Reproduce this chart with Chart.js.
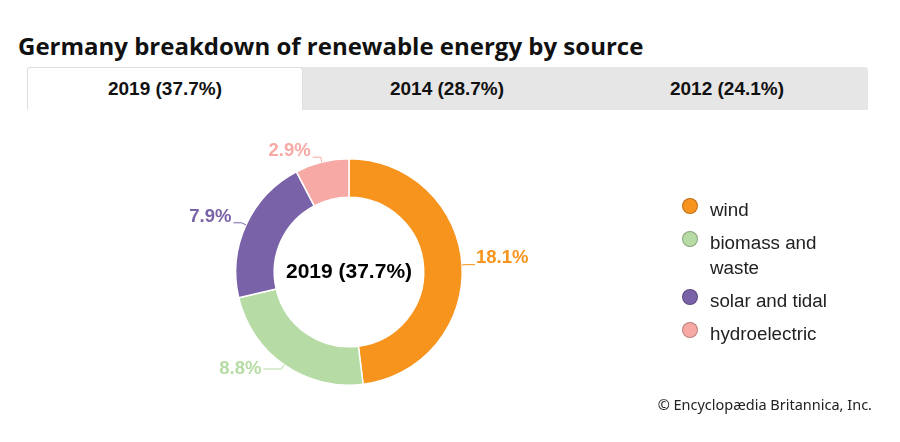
<!DOCTYPE html>
<html>
<head>
<meta charset="utf-8">
<script src="https://cdn.jsdelivr.net/npm/chart.js@4.4.1/dist/chart.umd.min.js"></script>
<style>
  body { margin: 0; background: #fff; width: 900px; height: 442px; overflow: hidden; position: relative; font-family: "Liberation Sans", Arial, sans-serif; }
  #titulo { position: absolute; left: 18px; top: 29px; font-family: "Open Sans", sans-serif; font-weight: 700; font-size: 24px; color: #111; white-space: nowrap; }
  #tabs { position: absolute; left: 27px; top: 67px; width: 841px; height: 43px; background: #e6e6e6; display: flex; border-radius: 3px 3px 0 0; }
  .tab { width: 280px; height: 43px; line-height: 43px; text-align: center; font-weight: 700; font-size: 19px; color: #111; box-sizing: border-box; }
  .tab.activo { background: #fff; border: 1px solid #dedede; border-bottom: none; border-radius: 3px 3px 0 0; width: 276px; margin-right: 4px; line-height: 42px; }
  #grafico { position: absolute; left: 0; top: 0; }
  #leyenda { position: absolute; left: 682px; top: 197px; }
  .item { display: flex; align-items: flex-start; margin-bottom: 8px; }
  .punto { width: 14px; height: 14px; border-radius: 50%; border: 1px solid rgba(0,0,0,0.25); margin-top: 1px; margin-right: 12px; flex: none; }
  .texto { font-size: 18.8px; line-height: 25px; color: #222; width: 140px; }
  #copy { position: absolute; right: 28px; top: 394px; font-family: "Noto Sans", sans-serif; font-size: 14.5px; color: #222; }
</style>
</head>
<body>
<div id="titulo">Germany breakdown of renewable energy by source</div>
<div id="tabs"></div>
<canvas id="grafico" width="900" height="442"></canvas>
<div id="leyenda"></div>
<div id="copy">© Encyclopædia Britannica, Inc.</div>
<script>
const categorias = ['wind', 'biomass and waste', 'solar and tidal', 'hydroelectric'];
const valores2019 = [18.1, 8.8, 7.9, 2.9];
const colores = ['#f7941d', '#b6dba5', '#7a62a8', '#f7aaa5'];
const pestanas = ['2019 (37.7%)', '2014 (28.7%)', '2012 (24.1%)'];
const textoCentro = '2019 (37.7%)';

// pestañas
const tabs = document.getElementById('tabs');
pestanas.forEach((p, i) => {
  const d = document.createElement('div');
  d.className = 'tab' + (i === 0 ? ' activo' : '');
  d.textContent = p;
  tabs.appendChild(d);
});

// leyenda
const leyenda = document.getElementById('leyenda');
categorias.forEach((c, i) => {
  const it = document.createElement('div');
  it.className = 'item';
  it.innerHTML = '<span class="punto" style="background:' + colores[i] + '"></span><span class="texto">' + c + '</span>';
  leyenda.appendChild(it);
});

/* etiquetas con lineas guia */
const etiquetas = {
  id: 'etiquetas',
  afterDraw(chart) {
    const ctx = chart.ctx;
    const meta = chart.getDatasetMeta(0);
    ctx.save();
    meta.data.forEach((arc, i) => {
      const ang = (arc.startAngle + arc.endAngle) / 2;
      const r = arc.outerRadius;
      const cx = arc.x, cy = arc.y;
      const abajo = Math.sin(ang) > 0.5;
      const x0 = cx + Math.cos(ang) * r, y0 = cy + Math.sin(ang) * r;
      const x1 = cx + Math.cos(ang) * (r + 5), y1 = cy + Math.sin(ang) * (r + 5);
      const der = Math.cos(ang) >= 0;
      const largo = abajo ? 18 : 8;
      const x2 = x1 + (der ? largo : -largo);
      ctx.strokeStyle = colores[i];
      ctx.lineWidth = 1;
      ctx.beginPath();
      ctx.moveTo(x0, y0);
      ctx.lineTo(x1, y1);
      ctx.lineTo(x2, y1);
      ctx.stroke();
      ctx.fillStyle = colores[i];
      ctx.font = 'bold 18.5px "Liberation Sans", Arial, sans-serif';
      ctx.textAlign = der ? 'left' : 'right';
      ctx.textBaseline = abajo ? 'middle' : 'bottom';
      ctx.fillText(valores2019[i].toFixed(1) + '%', x2 + (der ? 1 : -2), abajo ? y1 : y1 + 3);
    });
    ctx.fillStyle = '#000';
    ctx.font = 'bold 21px "Liberation Sans", Arial, sans-serif';
    ctx.textAlign = 'center';
    ctx.textBaseline = 'middle';
    ctx.fillText(textoCentro, meta.data[0].x, meta.data[0].y);
    ctx.restore();
  }
};

const ctx = document.getElementById('grafico').getContext('2d');
new Chart(ctx, {
  type: 'doughnut',
  data: {
    labels: categorias,
    datasets: [{
      data: valores2019,
      backgroundColor: colores,
      borderColor: '#fff',
      borderWidth: 1.5
    }]
  },
  options: {
    responsive: false,
    animation: false,
    cutout: '66%',
    layout: { padding: { left: 235, right: 437, top: 158, bottom: 56 } },
    plugins: {
      legend: { display: false },
      tooltip: { enabled: false }
    }
  },
  plugins: [etiquetas]
});
</script>
</body>
</html>
